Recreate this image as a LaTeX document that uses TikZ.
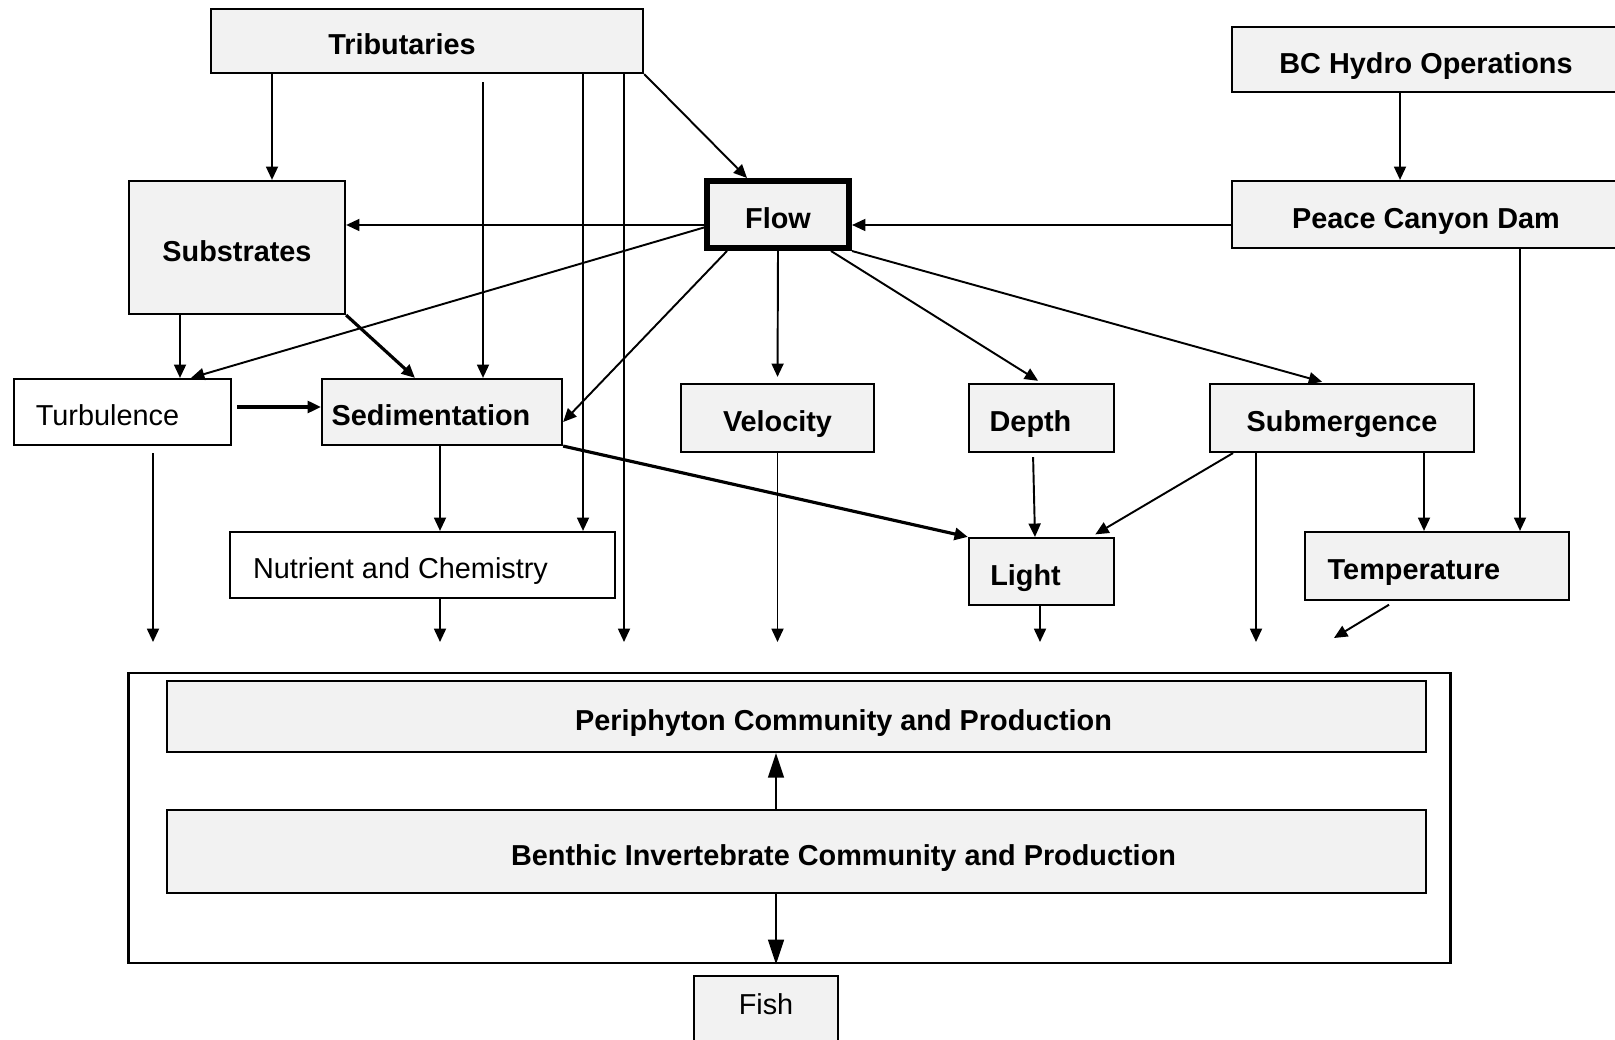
\documentclass[tikz,border=0pt]{standalone}
\usepackage{fontspec}
\setmainfont{Liberation Sans}
\usetikzlibrary{arrows.meta,calc}
\definecolor{BoxGrey}{RGB}{242,242,242}
\newcommand{\txtshift}[1]{\hspace*{#1}\hspace*{#1}}
\tikzset{
  >={Triangle[length=3.8pt,width=3.4pt]},
  box/.style={draw=black,line width=0.6pt,fill=BoxGrey,align=center,inner sep=0pt,text height=8.6pt,text depth=0.7pt,font=\fontsize{8.2}{10}\selectfont\bfseries},
  plainbox/.style={box,fill=white,font=\fontsize{8.2}{10}\selectfont},
  keybox/.style={box,line width=1.7pt},
  outerframe/.style={draw=black,line width=0.7pt,inner sep=0pt},
  link/.style={->,line width=0.55pt},
  heavylink/.style={->,line width=0.9pt},
  longlink/.style={-{Triangle[length=7pt,width=4.5pt]},line width=0.55pt}
}
\begin{document}
\begin{tikzpicture}[x=0.01cm,y=-0.01cm]
  \useasboundingbox (0,0) rectangle (1615,1040);
  % drivers
  \node[box,minimum width=4.32cm,minimum height=0.64cm] (trib) at (427,41) {\txtshift{-0.25cm}Tributaries};
  \node[box,minimum width=3.87cm,minimum height=0.65cm] (bcho) at (1426,59.5) {BC Hydro Operations};
  \node[box,minimum width=3.87cm,minimum height=0.67cm] (peace) at (1426,214.5) {Peace Canyon Dam};
  \node[box,minimum width=2.16cm,minimum height=1.33cm] (subs) at (237,247.5) {Substrates};
  \node[keybox,minimum width=1.42cm,minimum height=0.67cm] (flow) at (778,214.5) {Flow};
  % habitat factors
  \node[plainbox,minimum width=2.17cm,minimum height=0.66cm] (turb) at (122.5,412) {\txtshift{-0.15cm}Turbulence};
  \node[box,minimum width=2.40cm,minimum height=0.66cm] (sed) at (442,412) {\txtshift{-0.11cm}Sedimentation};
  \node[box,minimum width=1.93cm,minimum height=0.68cm] (vel) at (777.5,418) {Velocity};
  \node[box,minimum width=1.45cm,minimum height=0.68cm] (depth) at (1041.5,418) {\txtshift{-0.11cm}Depth};
  \node[box,minimum width=2.64cm,minimum height=0.68cm] (subm) at (1342,418) {Submergence};
  \node[plainbox,minimum width=3.85cm,minimum height=0.66cm] (nutr) at (422.5,565) {\txtshift{-0.22cm}Nutrient and Chemistry};
  \node[box,minimum width=1.45cm,minimum height=0.67cm] (light) at (1041.5,571.5) {\txtshift{-0.16cm}Light};
  \node[box,minimum width=2.64cm,minimum height=0.68cm] (temp) at (1437,566) {\txtshift{-0.23cm}Temperature};
  % biota
  \node[outerframe,minimum width=13.21cm,minimum height=2.90cm] (biota) at (789.5,818) {};
  \node[box,minimum width=12.59cm,minimum height=0.71cm] (peri) at (796.5,716.5) {\txtshift{0.47cm}Periphyton Community and Production};
  \node[box,minimum width=12.59cm,minimum height=0.83cm] (bent) at (796.5,851.5) {\txtshift{0.47cm}Benthic Invertebrate Community and Production};
  \node[plainbox,fill=BoxGrey,anchor=north,minimum width=1.44cm,text height=0.285cm,text depth=0.35cm,inner ysep=0.1cm] (fish) at (766,975) {Fish};
  % open arrow ends above the biota frame
  \coordinate (endTurb) at (153,642);
  \coordinate (endNutr) at (440,642);
  \coordinate (endTrib) at (624,642);
  \coordinate (endVel) at (777.5,642);
  \coordinate (endLight) at (1040,642);
  \coordinate (endSubm) at (1256,642);
  \coordinate (endTemp) at (1334,638);
  % connectors
  \draw[link] (trib.south -| 272,0) -- (subs.north -| 272,0);
  \draw[link,shorten <=0.08cm] (trib.south -| 483,0) -- (sed.north -| 483,0);
  \draw[link] (trib.south -| 583,0) -- (nutr.north -| 583,0);
  \draw[link] (trib.south -| 624,0) -- (endTrib);
  \draw[link] (trib.south east) -- (flow.north -| 747,0);
  \draw[link] (bcho.south -| 1400,0) -- (peace.north -| 1400,0);
  \draw[link] (peace.west |- 0,225) -- (flow.east |- 0,225);
  \draw[link] (flow.west |- 0,225) -- (subs.east |- 0,225);
  \draw[link] (subs.south -| 180,0) -- (turb.north -| 180,0);
  \draw[heavylink] (subs.south east) -- (sed.north -| 415,0);
  \draw[link] ($(flow.west)+(0,13)$) -- (turb.north -| 191,0);
  \draw[link] (flow.south -| 727,0) -- (sed.east |- 0,422);
  \draw[heavylink,shorten <=0.05cm] (turb.east |- 0,407) -- (sed.west |- 0,407);
  \draw[link,shorten >=0.06cm] (flow.south) -- (vel.north);
  \draw[link,shorten >=0.04cm] (flow.south -| 831,0) -- (depth.north);
  \draw[link,shorten >=0.04cm] (flow.south east) -- (subm.north -| 1326,0);
  \draw[link] (peace.south -| 1520,0) -- (temp.north -| 1520,0);
  \draw[link] (subm.south -| 1424,0) -- (temp.north -| 1424,0);
  \draw[link] (subm.south -| 1256,0) -- (endSubm);
  \draw[link,shorten >=0.05cm] (subm.south -| 1233,0) -- (light.north -| 1091,0);
  \draw[link,shorten <=0.04cm] (depth.south -| 1033,0) -- (light.north -| 1035,0);
  \draw[heavylink] (sed.south east) -- (light.north west);
  \draw[link] (sed.south -| 440,0) -- (nutr.north -| 440,0);
  \draw[link] (nutr.south -| 440,0) -- (endNutr);
  \draw[link,shorten <=0.07cm] (turb.south -| 153,0) -- (endTurb);
  \draw[link] (vel.south) -- (endVel);
  \draw[link] (light.south -| 1040,0) -- (endLight);
  \draw[link,shorten <=0.07cm] (temp.south -| 1395,0) -- (endTemp);
  \draw[longlink] (bent.north -| 776,0) -- (peri.south -| 776,0);
  \draw[longlink] (bent.south -| 776,0) -- (biota.south -| 776,0);
\end{tikzpicture}
\end{document}
